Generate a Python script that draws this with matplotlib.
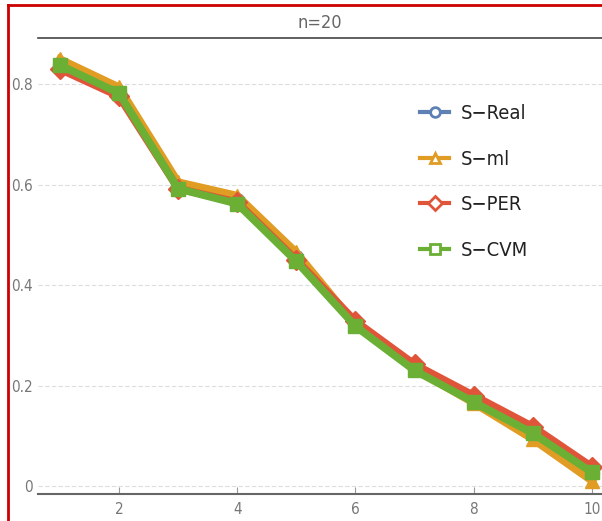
import matplotlib
matplotlib.use("Agg")
import matplotlib.pyplot as plt
from matplotlib.lines import Line2D

x = [1, 2, 3, 4, 5, 6, 7, 8, 9, 10]
s_real = [0.840, 0.785, 0.598, 0.570, 0.455, 0.320, 0.235, 0.172, 0.108, 0.025]
s_ml   = [0.850, 0.794, 0.605, 0.578, 0.465, 0.322, 0.233, 0.165, 0.093, 0.010]
s_per  = [0.830, 0.776, 0.592, 0.565, 0.450, 0.328, 0.242, 0.180, 0.118, 0.038]
s_cvm  = [0.838, 0.782, 0.592, 0.562, 0.447, 0.318, 0.230, 0.167, 0.105, 0.027]
labels = ["S\u2212Real", "S\u2212ml", "S\u2212PER", "S\u2212CVM"]
colors = ["#5E81B5", "#E19C24", "#E0553A", "#6BAF35"]
markers = ["o", "^", "D", "s"]
xticks = [2, 4, 6, 8, 10]
yticks = [0, 0.2, 0.4, 0.6, 0.8]
ytick_labels = ["0", "0.2", "0.4", "0.6", "0.8"]

plt.rcParams['font.family'] = ['DejaVu Sans']
plt.rcParams['font.stretch'] = 'condensed'

fig = plt.figure(figsize=(6.02, 5.21), dpi=100)
ax = fig.add_axes([38/602, 1-494/521, 1-38/602, (494-38)/521])

series = [s_real, s_ml, s_per, s_cvm]
for ys, c, m in zip(series, colors, markers):
    ax.plot(x, ys, color=c, lw=5.5, marker=m, ms=10, mfc=c, mec=c, solid_joinstyle='round')

ax.set_xlim(0.63, 10.17)
ax.set_ylim(-0.016, 0.892)
ax.set_xticks(xticks)
ax.set_xticklabels([str(t) for t in xticks])
ax.set_yticks(yticks)
ax.set_yticklabels(ytick_labels)
ax.tick_params(axis='x', direction='in', length=5, color='#999999', labelcolor='#777777', labelsize=11, pad=6)
ax.tick_params(axis='y', length=0, labelcolor='#777777', labelsize=11, pad=4)
ax.grid(axis='y', color='#dddddd', lw=0.8, ls=(0, (4, 2)))
ax.set_axisbelow(True)
for s in ['left', 'right']:
    ax.spines[s].set_visible(False)
ax.spines['bottom'].set_color('#666666')
ax.spines['bottom'].set_linewidth(1.5)
ax.spines['top'].set_color('#444444')
ax.spines['top'].set_linewidth(1.2)

ax.set_title("n=20", color='#666666', fontsize=13, pad=7)

handles = [Line2D([0], [0], color=c, lw=3, marker=m, ms=7, mfc='white', mec=c, mew=2)
           for c, m in zip(colors, markers)]
leg = ax.legend(handles, labels, loc='upper left', bbox_to_anchor=(0.646, 0.895),
                frameon=False, fontsize=14.5, handlelength=1.4, labelspacing=1.32,
                handletextpad=0.6)
for t in leg.get_texts():
    t.set_color('#222222')

# red border (left and top)
fig.add_artist(Line2D([8/602, 8/602], [0, 1-5/521], color='#cc0000', lw=2, transform=fig.transFigure))
fig.add_artist(Line2D([8/602, 1], [1-5/521, 1-5/521], color='#cc0000', lw=2, transform=fig.transFigure))

fig.savefig("out.png", dpi=100)
